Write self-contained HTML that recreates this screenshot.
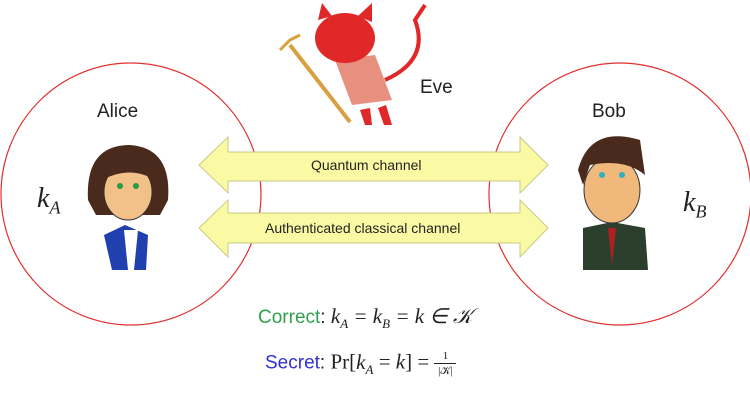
<!DOCTYPE html>
<html><head><style>
body{margin:0;background:#fff;}
.t{position:absolute;font-family:"Liberation Sans",sans-serif;color:#222;white-space:nowrap;}
.m{font-family:"Liberation Serif",serif;font-style:italic;}
</style></head><body>
<div style="position:relative;width:750px;height:411px;overflow:hidden;">
<svg width="750" height="411" style="position:absolute;left:0;top:0">
<ellipse cx="131" cy="194" rx="130" ry="131" fill="none" stroke="#e03030" stroke-width="1.2"/>
<ellipse cx="620" cy="194" rx="131" ry="131" fill="none" stroke="#e03030" stroke-width="1.2"/>
<polygon points="199,165 228,137 228,152 520,152 520,137 548,165 520,193 520,181 228,181 228,193" fill="#fbfaa4" stroke="#c9c98a" stroke-width="1"/>
<polygon points="199,228 228,200 228,213 520,213 520,200 548,228 520,257 520,243 228,243 228,257" fill="#fbfaa4" stroke="#c9c98a" stroke-width="1"/>
<!-- Alice -->
<path d="M112,270 L104,235 L125,225 L148,235 L146,270 Z" fill="#2040b0"/>
<path d="M124,230 L128,270 L134,270 L138,230 Z" fill="#fff"/>
<path d="M88,200 Q85,145 130,145 Q172,148 168,200 L160,215 L96,215 Z" fill="#4a2a1c"/>
<ellipse cx="128" cy="192" rx="24" ry="28" fill="#f4c08a" stroke="#333"/>
<path d="M102,180 Q110,150 150,160 L155,180 Q130,165 102,180Z" fill="#4a2a1c"/>
<circle cx="120" cy="186" r="3" fill="#2a9a40"/><circle cx="136" cy="186" r="3" fill="#2a9a40"/>
<!-- Bob -->
<path d="M583,270 L583,228 L612,222 L645,228 L648,270 Z" fill="#2c3f2c"/>
<path d="M608,228 L612,265 L616,228Z" fill="#b02020"/>
<ellipse cx="612" cy="190" rx="28" ry="33" fill="#f0b87a" stroke="#333"/>
<path d="M578,170 Q590,125 640,140 L645,175 Q625,158 590,165 L583,185Z" fill="#4a2a1c"/>
<circle cx="602" cy="175" r="3" fill="#30b0c0"/><circle cx="622" cy="175" r="3" fill="#30b0c0"/>
<!-- Eve -->
<line x1="290" y1="45" x2="350" y2="122" stroke="#d8a040" stroke-width="4"/>
<path d="M280,50 L290,40 L300,35" stroke="#d8a040" stroke-width="3" fill="none"/>
<path d="M335,60 L375,55 L392,100 L352,105 Z" fill="#e89080"/>
<ellipse cx="345" cy="38" rx="30" ry="25" fill="#e02828"/>
<path d="M318,20 L322,3 L332,16Z M358,16 L372,3 L372,22Z" fill="#e02828"/>
<path d="M360,110 L365,125 L372,125 L370,108 Z M378,108 L384,125 L392,125 L386,105Z" fill="#e02828"/>
<path d="M385,80 Q430,60 415,20 L425,5" stroke="#e02828" stroke-width="4" fill="none"/>
</svg>
<div class="t" style="left:97px;top:101px;font-size:19px;">Alice</div>
<div class="t" style="left:592px;top:101px;font-size:19px;">Bob</div>
<div class="t" style="left:420px;top:77px;font-size:19px;">Eve</div>
<div class="t" style="left:311px;top:157px;font-size:14px;">Quantum channel</div>
<div class="t" style="left:265px;top:220px;font-size:14px;">Authenticated classical channel</div>
<div class="t m" style="left:37px;top:183px;font-size:28px;">k<sub style="font-size:18px">A</sub></div>
<div class="t m" style="left:683px;top:187px;font-size:28px;">k<sub style="font-size:18px">B</sub></div>
<div class="t" style="left:258px;top:304px;font-size:19px;"><span style="color:#30a050">Correct</span>: <span class="m" style="font-size:21px">k<sub style="font-size:13px">A</sub> = k<sub style="font-size:13px">B</sub> = k ∈ 𝒦</span></div>
<div class="t" style="left:265px;top:349px;font-size:19px;"><span style="color:#3030d0">Secret</span>: <span style="font-family:'Liberation Serif',serif;font-size:21px">Pr[<i>k<sub style="font-size:13px">A</sub></i> = <i>k</i>] =</span> <span style="display:inline-block;vertical-align:middle;font-size:11px;font-family:'Liberation Serif',serif;text-align:center;width:22px;line-height:14px;">1<span style="display:block;border-top:1px solid #222">|𝒦|</span></span></div>
</div>
</body></html>
